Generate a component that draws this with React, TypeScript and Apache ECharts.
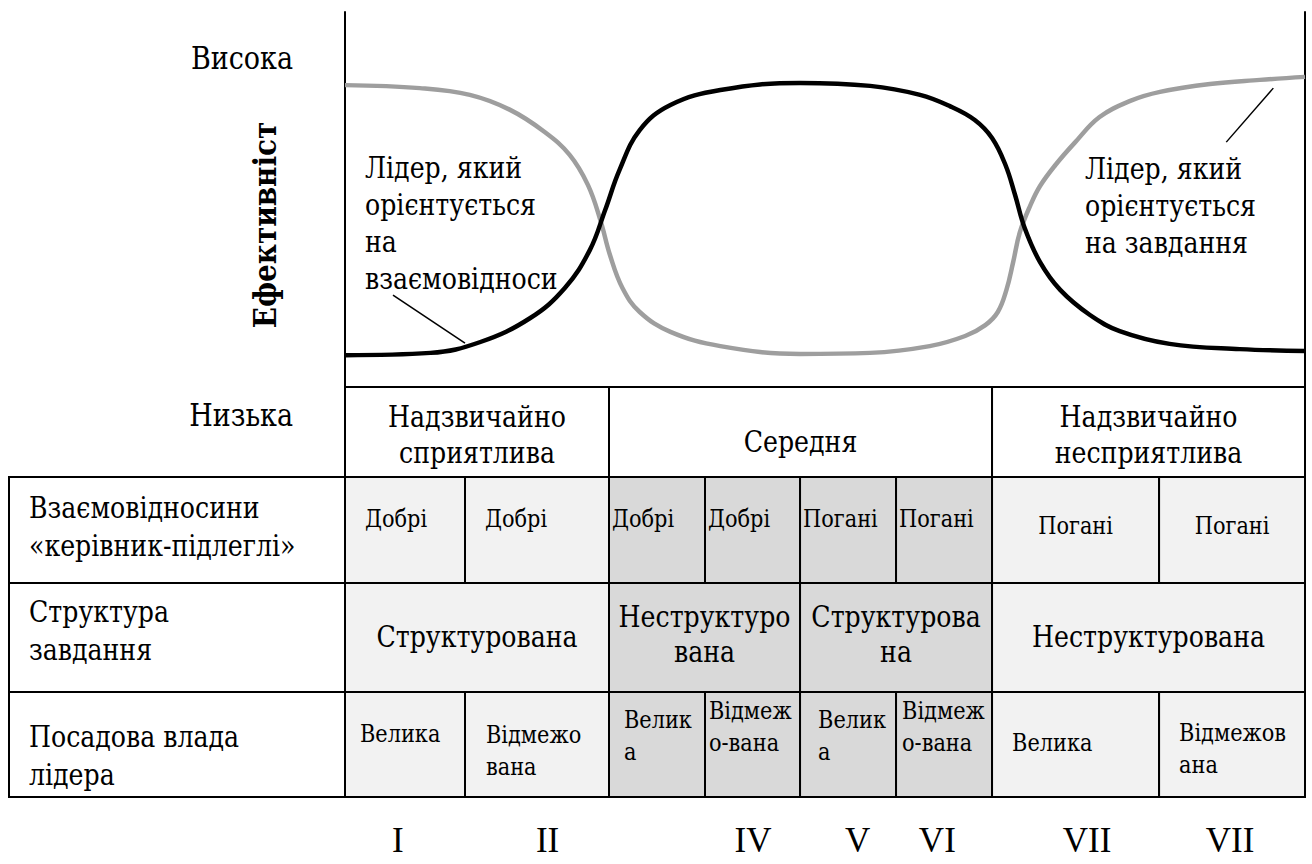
import React, { useEffect, useRef } from "react";
import * as echarts from "echarts";

// ---------- data ----------
const relationsOrientedCurve: number[][] = [
  [0, 80.5], [7.8, 79.7], [13.0, 77.9], [17.2, 73.9], [20.8, 68.0], [23.4, 61.9],
  [25.3, 53.9], [26.6, 44.5], [27.6, 35.2], [28.9, 26.4], [30.7, 20.0], [33.9, 14.7],
  [39.1, 10.9], [47.4, 8.8], [54.7, 9.1], [60.9, 10.9], [64.6, 13.6], [66.7, 16.5],
  [68.0, 20.0], [68.9, 25.9], [69.6, 33.3], [70.3, 41.3], [71.4, 48.5], [72.4, 53.6],
  [74.0, 59.2], [76.0, 65.1], [78.6, 72.0], [81.8, 76.3], [84.9, 78.7], [90.1, 80.8],
  [95.3, 81.9], [100, 82.7],
];
const taskOrientedCurve: number[][] = [
  [0, 8.5], [8.9, 9.1], [14.1, 12.0], [19.3, 18.4], [22.9, 26.4], [25.5, 36.5],
  [27.1, 47.2], [28.6, 57.9], [30.7, 68.5], [33.9, 75.2], [39.1, 79.2], [47.4, 81.1],
  [54.7, 80.3], [59.9, 77.9], [63.0, 74.9], [65.6, 71.2], [67.4, 66.4], [68.8, 59.2],
  [69.8, 51.2], [70.8, 42.4], [72.4, 33.3], [74.5, 25.9], [77.6, 19.2], [80.7, 14.9],
  [85.9, 11.5], [93.2, 10.1], [100, 9.6],
];
const pointerLines: number[][][] = [
  [[5.0, 24.5], [12.5, 11.7]],
  [[96.7, 79.7], [91.8, 65.3]],
];

const axisTitle = "Ефективніст";
const highLabel = "Висока";
const lowLabel = "Низька";
const leftNote = "Лідер, який\nорієнтується\nна\nвзаємовідноси";
const rightNote = "Лідер, який\nорієнтується\nна завдання";

const regimeLabels = ["Надзвичайно\nсприятлива", "Середня", "Надзвичайно\nнесприятлива"];
const regimeEdges = [0, 27.5, 67.4, 100];
const rowLabels = ["Взаємовідносини\n«керівник-підлеглі»", "Структура\nзавдання", "Посадова влада\nлідера"];
const octantEdges = [0, 12.5, 27.5, 37.5, 47.4, 57.4, 67.4, 84.8, 100];
const relations = ["Добрі", "Добрі", "Добрі", "Добрі", "Погані", "Погані", "Погані", "Погані"];
const structureEdges = [0, 27.5, 47.4, 67.4, 100];
const structure = ["Структурована", "Неструктуро\nвана", "Структурова\nна", "Неструктурована"];
const power = ["Велика", "Відмежо\nвана", "Велик\nа", "Відмеж\nо-вана", "Велик\nа", "Відмеж\nо-вана", "Велика", "Відмежов\nана"];
const octantNumerals = ["I", "II", "", "IV", "V", "VI", "VII", "VII"];
const numeralX = [5.5, 21.1, 32.5, 42.5, 53.4, 61.7, 77.3, 92.2];

// ---------- layout / style ----------
const FONT = "DejaVu Serif";
const LATIN_FONT = "Liberation Serif";
const SX = 0.87; // horizontal condensing to mimic a Times-like face
const LIGHT = "#f2f2f2";
const DARK = "#d9d9d9";
const ROWS = [0, 90, 196, 305, 410]; // table row edges (px offsets from table top)
const NUMERAL_Y = 453;
const LABEL_LEFT = -35;
const headerVC = [48, 55, 48];
const rowLabelVC = [50, 48, 64];
const relPad = [20, 20, 3, 3, 3, 3, -1, -1];
const relVC = [41, 41, 41, 41, 41, 41, 48, 48];
const structVC = [54, 51, 51, 54];
const powerPad = [15, 21, 15, 4, 18, 6, 20, 20];
const powerVC = [41, 58, 43, 34, 43, 34, 50, 56];

type Cell = {
  x0: number; x1: number; y0: number; y1: number; text: string;
  box: boolean; fill: string; pad: number; vc: number; size: number; lh: number; font: string; sx: number;
};

const cells: Cell[] = [];
regimeLabels.forEach((t, i) =>
  cells.push({ x0: regimeEdges[i], x1: regimeEdges[i + 1], y0: ROWS[0], y1: ROWS[1], text: t, box: true, fill: "#ffffff", pad: -1, vc: headerVC[i], size: 29, lh: 36, font: FONT, sx: SX })
);
rowLabels.forEach((t, i) =>
  cells.push({ x0: LABEL_LEFT, x1: 0, y0: ROWS[i + 1], y1: ROWS[i + 2], text: t, box: true, fill: "#ffffff", pad: 20, vc: rowLabelVC[i], size: 29, lh: 38, font: FONT, sx: SX })
);
relations.forEach((t, i) =>
  cells.push({ x0: octantEdges[i], x1: octantEdges[i + 1], y0: ROWS[1], y1: ROWS[2], text: t, box: true, fill: i >= 2 && i <= 5 ? DARK : LIGHT, pad: relPad[i], vc: relVC[i], size: 24, lh: 32, font: FONT, sx: SX })
);
structure.forEach((t, i) =>
  cells.push({ x0: structureEdges[i], x1: structureEdges[i + 1], y0: ROWS[2], y1: ROWS[3], text: t, box: true, fill: i === 1 || i === 2 ? DARK : LIGHT, pad: -1, vc: structVC[i], size: 29, lh: 35, font: FONT, sx: SX })
);
power.forEach((t, i) =>
  cells.push({ x0: octantEdges[i], x1: octantEdges[i + 1], y0: ROWS[3], y1: ROWS[4], text: t, box: true, fill: i >= 2 && i <= 5 ? DARK : LIGHT, pad: powerPad[i], vc: powerVC[i], size: 24, lh: 32, font: FONT, sx: SX })
);
octantNumerals.forEach((t, i) =>
  cells.push({ x0: numeralX[i], x1: numeralX[i], y0: NUMERAL_Y, y1: NUMERAL_Y, text: t, box: false, fill: "none", pad: -1, vc: 0, size: 35, lh: 38, font: LATIN_FONT, sx: 1 })
);

function textEl(text: string, x: number, y: number, size: number, align: string, vAlign: string, opts: any = {}) {
  return {
    type: "text", x, y, scaleX: opts.sx ?? SX, rotation: opts.rotation ?? 0,
    style: {
      text, x: 0, y: 0, fill: "#000", fontFamily: opts.font ?? FONT, fontSize: size,
      fontWeight: opts.weight ?? "normal", lineHeight: opts.lh ?? Math.round(size * 1.25),
      align, textAlign: align, verticalAlign: vAlign, textVerticalAlign: vAlign,
    },
  };
}

export default function App() {
  const ref = useRef<HTMLDivElement>(null);
  useEffect(() => {
    document.body.style.margin = "0";
    if (!ref.current) return;
    const chart = echarts.init(ref.current, null, { renderer: "svg" });
    chart.setOption({
      animation: false,
      backgroundColor: "#ffffff",
      grid: [
        { left: 345, right: 7, top: 12, height: 375 },
        { left: 9, right: 7, top: 387, height: 470 },
      ],
      xAxis: [
        { type: "value", gridIndex: 0, min: 0, max: 100, show: false },
        { type: "value", gridIndex: 1, min: LABEL_LEFT, max: 100, show: false },
      ],
      yAxis: [
        {
          type: "value", gridIndex: 0, min: 0, max: 100, position: "left",
          axisLine: { show: true, lineStyle: { color: "#000", width: 2 } },
          axisTick: { show: false }, axisLabel: { show: false }, splitLine: { show: false },
        },
        {
          type: "value", gridIndex: 0, min: 0, max: 100, position: "right",
          axisLine: { show: true, lineStyle: { color: "#000", width: 2 } },
          axisTick: { show: false }, axisLabel: { show: false }, splitLine: { show: false },
        },
        { type: "value", gridIndex: 1, min: 0, max: 470, inverse: true, show: false },
      ],
      series: [
        {
          type: "line", xAxisIndex: 0, yAxisIndex: 0, data: relationsOrientedCurve,
          smooth: 0.4, symbol: "none",
          lineStyle: { color: "#9e9e9e", width: 4.5 }, z: 3,
          markLine: {
            silent: true, symbol: ["none", "none"], label: { show: false },
            lineStyle: { color: "#000", width: 1.5, type: "solid" },
            data: pointerLines.map((l) => [{ coord: l[0] }, { coord: l[1] }]),
          },
        },
        {
          type: "line", xAxisIndex: 0, yAxisIndex: 0, data: taskOrientedCurve,
          smooth: 0.4, symbol: "none",
          lineStyle: { color: "#000", width: 4.5 }, z: 4,
        },
        {
          type: "custom", xAxisIndex: 1, yAxisIndex: 2, clip: false,
          data: cells.map((c) => [c.x0, c.y0, c.x1, c.y1]),
          encode: { x: [0, 2], y: [1, 3] },
          renderItem: (params: any, api: any) => {
            const c = cells[params.dataIndex];
            const p0 = api.coord([c.x0, c.y0]);
            const p1 = api.coord([c.x1, c.y1]);
            const x = p0[0], y = p0[1], w = p1[0] - p0[0], h = p1[1] - p0[1];
            const children: any[] = [];
            if (c.box) {
              children.push({
                type: "rect", shape: { x, y, width: w, height: h },
                style: { fill: c.fill, stroke: "#000", lineWidth: 2 },
              });
            }
            if (c.text) {
              const centered = c.pad < 0;
              children.push(
                textEl(c.text, centered ? x + w / 2 : x + c.pad, y + c.vc, c.size,
                  centered ? "center" : "left", "middle", { lh: c.lh, font: c.font, sx: c.sx })
              );
            }
            return { type: "group", children };
          },
        },
      ],
      graphic: [
        textEl(highLabel, 293, 58, 31, "right", "middle"),
        textEl(lowLabel, 293, 415, 31, "right", "middle"),
        textEl(axisTitle, 265, 225, 32, "center", "middle", { rotation: Math.PI / 2, weight: "bold" }),
        textEl(leftNote, 365, 149, 29, "left", "top", { lh: 37 }),
        textEl(rightNote, 1085, 150, 29, "left", "top", { lh: 37 }),
      ],
    });
    return () => chart.dispose();
  }, []);
  return <div ref={ref} style={{ width: 1312, height: 864 }} />;
}
